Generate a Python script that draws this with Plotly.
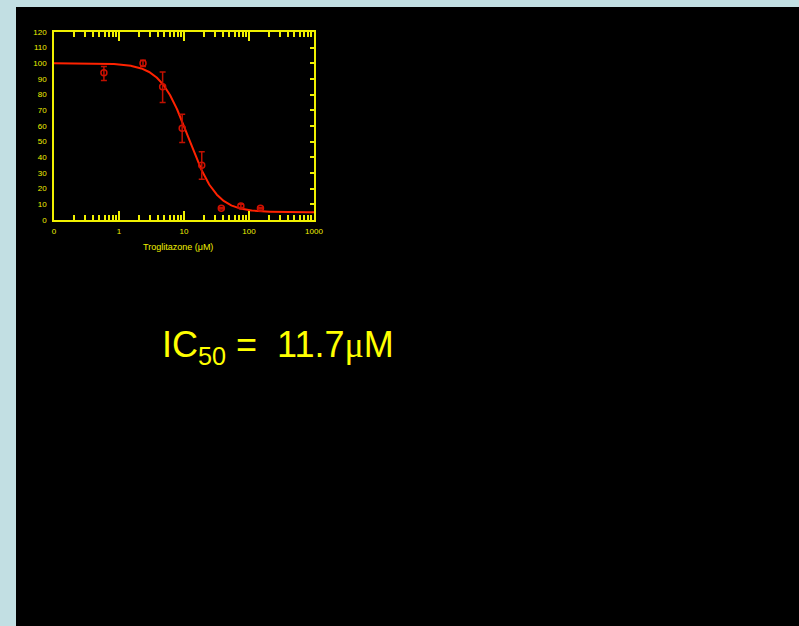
import numpy as np
import plotly.graph_objects as go

# Troglitazone dose-response (% of control)
conc_uM = [0.586, 2.34, 4.69, 9.38, 18.75, 37.5, 75.0, 150.0]
response = [94.0, 100.0, 85.0, 58.5, 35.0, 7.5, 9.0, 7.5]
err_up = [4.0, 2.0, 9.5, 9.0, 8.5, 0.5, 1.0, 0.5]
err_down = [5.0, 2.0, 10.0, 9.0, 9.0, 0.5, 1.0, 0.5]

# four-parameter logistic fit
fit_top = 100.0
fit_bottom = 5.0
fit_ic50 = 11.7
fit_hill = 2.0

x_tickvals = [0.1, 1, 10, 100, 1000]
x_ticktext = ["0", "1", "10", "100", "1000"]
y_tickvals = list(range(0, 121, 10))

YELLOW = "#f0f000"
W, H = 799, 626
L, R, T, B = 54, 314, 32, 220

xfit = np.logspace(-1, 3, 400)
yfit = fit_bottom + (fit_top - fit_bottom) / (1 + (xfit / fit_ic50) ** fit_hill)

minor_vals = [m * 10.0 ** d for d in range(-1, 3) for m in range(2, 10)]

fig = go.Figure()
fig.add_trace(go.Scatter(
    x=xfit, y=yfit, mode="lines",
    line=dict(color="#ff2200", width=2), hoverinfo="skip", showlegend=False))
fig.add_trace(go.Scatter(
    x=conc_uM, y=response, mode="markers",
    marker=dict(symbol="circle-open", size=6, color="#d01000",
                line=dict(width=1.5, color="#d01000")),
    error_y=dict(type="data", symmetric=False, array=err_up, arrayminus=err_down,
                 color="#c01000", thickness=1.5, width=3),
    showlegend=False))
# right-hand tick axis
fig.add_trace(go.Scatter(x=[1], y=[0], yaxis="y2", mode="markers",
                         marker=dict(opacity=0), hoverinfo="skip", showlegend=False))

tickfont = dict(family="Liberation Sans, Arial, sans-serif", size=8, color=YELLOW)

fig.update_layout(
    width=W, height=H,
    margin=dict(l=L, r=W - R, t=T, b=H - B, pad=0),
    paper_bgcolor="#c2dfe3",
    plot_bgcolor="#000000",
    xaxis=dict(
        type="log", range=[-1, 3], tickvals=x_tickvals, ticktext=x_ticktext,
        ticks="inside", ticklen=9, tickwidth=1.5, tickcolor=YELLOW,
        showline=True, linecolor=YELLOW, linewidth=1.5, mirror="ticks",
        showgrid=False, zeroline=False, tickfont=tickfont, ticklabelstandoff=3,
        minor=dict(tickvals=minor_vals, ticks="inside", ticklen=5,
                   tickwidth=1.5, tickcolor=YELLOW, showgrid=False),
    ),
    yaxis=dict(
        range=[0, 120], tickvals=y_tickvals, ticks="", showline=True,
        linecolor=YELLOW, linewidth=1.5, mirror=True, showgrid=False,
        zeroline=False, tickfont=tickfont, ticklabelstandoff=4,
    ),
    yaxis2=dict(
        range=[0, 120], tickvals=y_tickvals, overlaying="y", side="right",
        ticks="inside", ticklen=4, tickcolor=YELLOW, tickwidth=1.5,
        showticklabels=False, showgrid=False, zeroline=False, showline=False,
    ),
    shapes=[dict(
        type="rect", xref="paper", yref="paper", layer="below",
        x0=(16 - L) / (R - L), x1=(W + 5 - L) / (R - L),
        y0=(B - H - 5) / (B - T), y1=(B - 7) / (B - T),
        fillcolor="#000000", line=dict(width=0),
    )],
    annotations=[
        dict(text="Troglitazone (μM)", xref="paper", yref="paper",
             x=(178 - L) / (R - L), y=(B - 247) / (B - T),
             xanchor="center", yanchor="middle", showarrow=False,
             font=dict(family="Liberation Sans, Arial, sans-serif", size=9, color=YELLOW)),
        dict(text="IC<sub>50</sub> =\u00a0\u00a011.7<span style='font-family:Liberation Serif, serif'>μ</span>M",
             xref="paper", yref="paper",
             x=(160 - L) / (R - L), y=(B - 347) / (B - T),
             xanchor="left", yanchor="middle", showarrow=False,
             font=dict(family="Liberation Sans, Arial, sans-serif", size=36, color="#ffff00")),
    ],
)

fig.write_html("out.html")
